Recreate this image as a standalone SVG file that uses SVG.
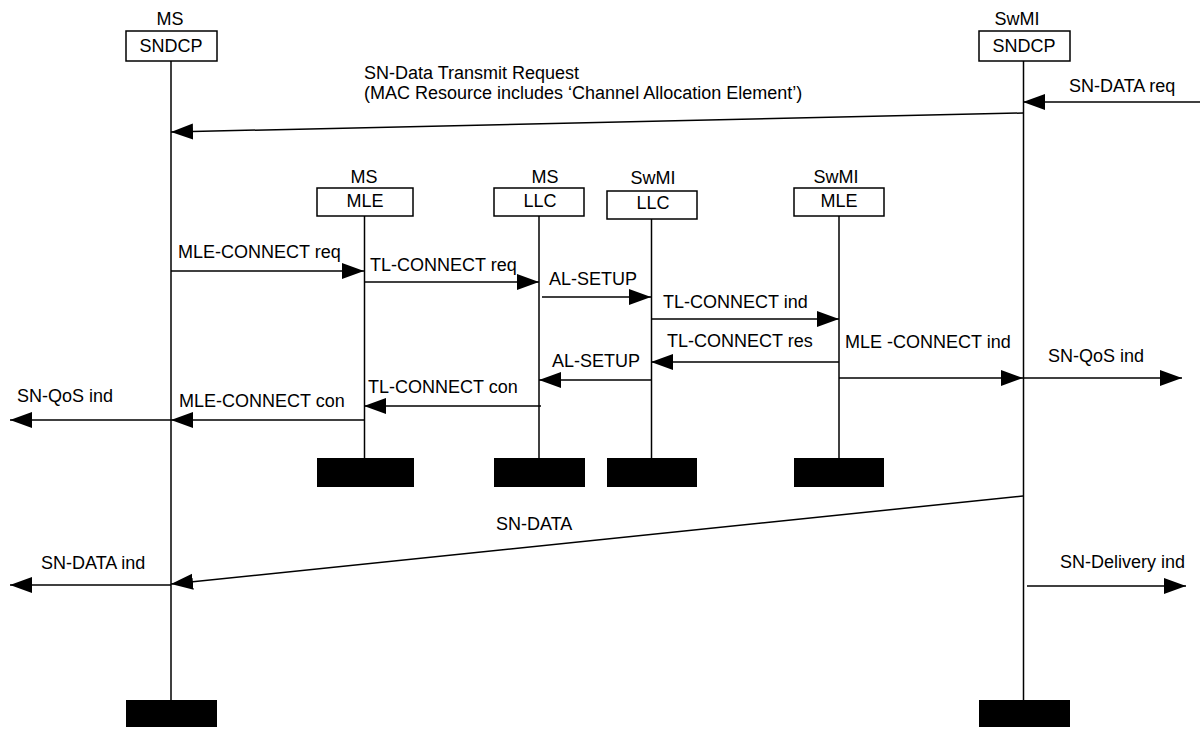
<svg xmlns="http://www.w3.org/2000/svg" width="1200" height="729" viewBox="0 0 1200 729">
<style>
text{font-family:"Liberation Sans",Arial,sans-serif;font-size:18px;fill:#000}
.c{text-anchor:middle}
.box{fill:#fff;stroke:#000;stroke-width:1.5}
.end{fill:#000}
.life{stroke:#000;stroke-width:1.5;fill:none}
.msg{stroke:#000;stroke-width:1.5;fill:none;marker-end:url(#ah)}
</style>
<defs>
<marker id="ah" markerUnits="userSpaceOnUse" markerWidth="23" markerHeight="17" refX="22" refY="8" orient="auto">
<path d="M0,0 L22,8 L0,16 z" fill="#000"/>
</marker>
</defs>
<rect width="1200" height="729" fill="#fff"/>

<g id="ms-sndcp">
<text class="c" x="170" y="25">MS</text>
<rect class="box" x="126" y="31" width="91" height="30"/>
<text class="c" x="171" y="52">SNDCP</text>
<line class="life" x1="171" y1="61" x2="171" y2="700"/>
<rect class="end" x="126" y="700" width="91" height="27"/>
</g>

<g id="swmi-sndcp">
<text class="c" x="1017" y="25">SwMI</text>
<rect class="box" x="979" y="31" width="91" height="30"/>
<text class="c" x="1024" y="52">SNDCP</text>
<line class="life" x1="1023.5" y1="61" x2="1023.5" y2="700"/>
<rect class="end" x="979" y="700" width="91" height="27"/>
</g>

<g id="ms-mle">
<text class="c" x="364" y="183">MS</text>
<rect class="box" x="317" y="188" width="96" height="28"/>
<text class="c" x="365" y="207">MLE</text>
<line class="life" x1="364.5" y1="216" x2="364.5" y2="458"/>
<rect class="end" x="317" y="458" width="97" height="29"/>
</g>

<g id="ms-llc">
<text class="c" x="545" y="183">MS</text>
<rect class="box" x="494" y="188" width="90" height="28"/>
<text class="c" x="540" y="207">LLC</text>
<line class="life" x1="539" y1="216" x2="539" y2="458"/>
<rect class="end" x="494" y="458" width="91" height="29"/>
</g>

<g id="swmi-llc">
<text class="c" x="653" y="184">SwMI</text>
<rect class="box" x="607" y="191" width="90" height="28"/>
<text class="c" x="653" y="209">LLC</text>
<line class="life" x1="651.5" y1="219" x2="651.5" y2="458"/>
<rect class="end" x="607" y="458" width="90" height="29"/>
</g>

<g id="swmi-mle">
<text class="c" x="836" y="183">SwMI</text>
<rect class="box" x="794" y="188" width="90" height="28"/>
<text class="c" x="839" y="207">MLE</text>
<line class="life" x1="839" y1="216" x2="839" y2="458"/>
<rect class="end" x="794" y="458" width="90" height="29"/>
</g>

<g id="connectors">
<line class="msg" x1="1023" y1="113" x2="171" y2="132"/>
<line class="msg" x1="1200" y1="102" x2="1023" y2="102"/>
<line class="msg" x1="171" y1="271" x2="364" y2="271"/>
<line class="msg" x1="364" y1="282" x2="539" y2="282"/>
<line class="msg" x1="542" y1="297" x2="651" y2="297"/>
<line class="msg" x1="651" y1="319" x2="839" y2="319"/>
<line class="msg" x1="839" y1="362" x2="651" y2="362"/>
<line class="msg" x1="651" y1="380" x2="539" y2="380"/>
<line class="msg" x1="839" y1="378" x2="1023" y2="378"/>
<line class="msg" x1="1023" y1="378" x2="1182" y2="378"/>
<line class="msg" x1="541" y1="406" x2="364" y2="406"/>
<line class="msg" x1="364" y1="420" x2="171" y2="420"/>
<line class="msg" x1="171" y1="420" x2="10" y2="420"/>
<line class="msg" x1="1023" y1="496" x2="171" y2="584"/>
<line class="msg" x1="171" y1="585" x2="10" y2="585"/>
<line class="msg" x1="1027" y1="586" x2="1186" y2="586"/>
</g>

<g id="labels">
<text x="364" y="79">SN-Data Transmit Request</text>
<text x="364" y="99">(MAC Resource includes ‘Channel Allocation Element’)</text>
<text x="1069" y="92">SN-DATA req</text>
<text x="178" y="258">MLE-CONNECT req</text>
<text x="370" y="271">TL-CONNECT req</text>
<text x="549" y="285">AL-SETUP</text>
<text x="663" y="308">TL-CONNECT ind</text>
<text x="667" y="347">TL-CONNECT res</text>
<text x="552" y="367">AL-SETUP</text>
<text x="845" y="348">MLE -CONNECT ind</text>
<text x="1048" y="362">SN-QoS ind</text>
<text x="368" y="393">TL-CONNECT con</text>
<text x="179" y="407">MLE-CONNECT con</text>
<text x="17" y="402">SN-QoS ind</text>
<text x="496" y="530">SN-DATA</text>
<text x="41" y="569">SN-DATA ind</text>
<text x="1060" y="568">SN-Delivery ind</text>
</g>
</svg>
